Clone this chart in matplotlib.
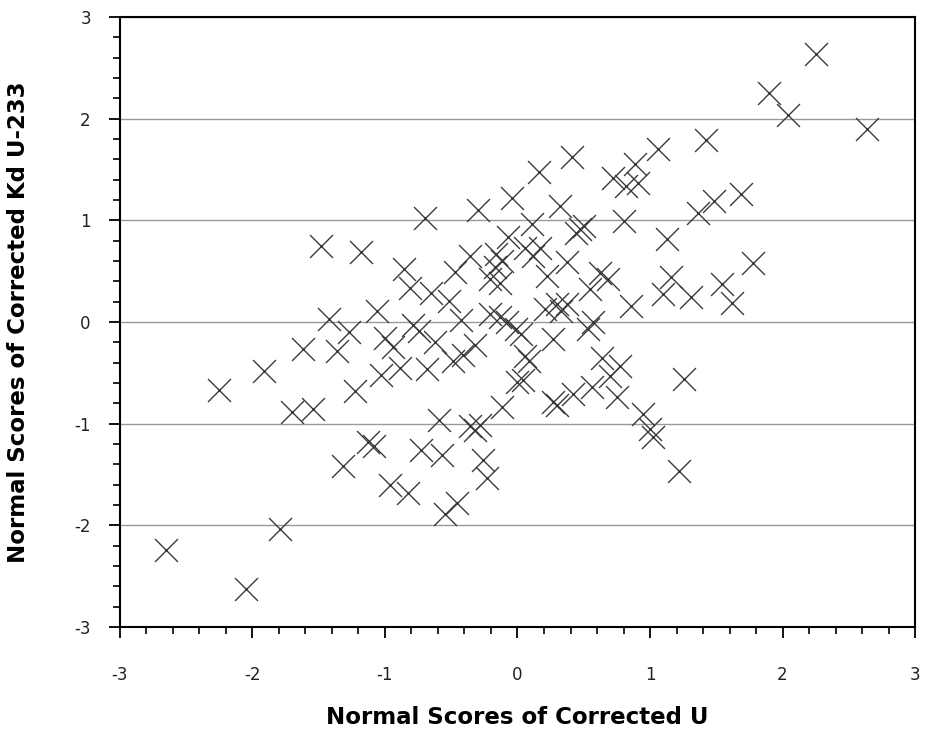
import matplotlib.pyplot as plt
from matplotlib.ticker import MultipleLocator

# Normal scores
corrected_u = [
    2.25, 1.90, 2.04, 2.64, 1.42, 1.06, 0.41, 0.16, 0.89, 0.72,
    0.82, 0.91, 0.32, -0.04, -0.30, -0.70, 1.36, 1.48, 1.69, 0.80,
    0.11, 0.44, 0.47, 0.50, 1.13, 1.78, 1.16, 1.10, 1.31, 1.54,
    1.62, 0.86, 0.62, 0.68, 0.55, 0.37, 0.22, 0.17, 0.12, 0.06,
    -0.07, -0.36, -0.47, -0.86, -1.48, -1.18, -0.16, -0.17, -0.12, -0.21,
    -0.13, -0.81, -0.65, -0.52, 0.21, 0.30, 0.37, 0.33, -1.42, -1.06,
    -0.43, -0.21, -0.13, 0.57, -0.79, -0.74, -0.08, -0.01, 0.03, 0.53,
    0.27, -1.27, -1.00, -0.94, -0.89, -1.03, -0.68, -0.62, -0.49, -0.41,
    -0.32, 0.06, 0.09, 0.00, 0.04, -0.12, 0.64, 0.77, 0.70, 0.75,
    0.56, 0.42, 0.27, 0.30, 0.95, 1.00, 1.02, 1.26, 1.22, -2.25,
    -1.91, -1.62, -1.36, -1.70, -1.54, -1.23, -0.59, -1.32, -1.13, -1.08,
    -0.96, -0.83, -0.73, -0.57, -0.55, -0.46, -0.36, -0.32, -0.28, -0.26,
    -0.23, -2.65, -2.05, -1.79,
]
corrected_kd = [
    2.64, 2.25, 2.04, 1.90, 1.79, 1.70, 1.62, 1.48, 1.55, 1.42,
    1.34, 1.37, 1.14, 1.22, 1.10, 1.02, 1.07, 1.19, 1.26, 0.99,
    0.96, 0.88, 0.91, 0.94, 0.82, 0.58, 0.44, 0.28, 0.25, 0.37,
    0.19, 0.16, 0.48, 0.42, 0.32, 0.59, 0.45, 0.73, 0.65, 0.73,
    0.84, 0.65, 0.49, 0.52, 0.75, 0.69, 0.67, 0.54, 0.60, 0.42,
    0.38, 0.33, 0.29, 0.21, 0.13, 0.18, 0.18, 0.11, 0.03, 0.11,
    0.02, 0.08, 0.05, 0.00, -0.03, -0.09, 0.00, -0.07, -0.12, -0.07,
    -0.17, -0.10, -0.16, -0.25, -0.45, -0.52, -0.46, -0.20, -0.38, -0.32,
    -0.23, -0.33, -0.38, -0.59, -0.57, -0.84, -0.35, -0.43, -0.53, -0.74,
    -0.64, -0.71, -0.79, -0.82, -0.90, -1.05, -1.13, -0.56, -1.47, -0.67,
    -0.48, -0.27, -0.29, -0.89, -0.86, -0.68, -0.96, -1.42, -1.18, -1.22,
    -1.60, -1.68, -1.26, -1.31, -1.89, -1.78, -1.02, -1.06, -1.01, -1.36,
    -1.53, -2.24, -2.63, -2.04,
]

plt.rcParams['axes.unicode_minus'] = False

fig = plt.figure(figsize=(9.28, 7.32), dpi=100)
ax = fig.add_axes([0.1293, 0.1434, 0.8567, 0.8334])

ax.scatter(corrected_u, corrected_kd, marker='x', s=16.5 ** 2,
           color='#3a3a3a', linewidths=1.0, zorder=3)

ax.set_xlim(-3, 3)
ax.set_ylim(-3, 3)
ax.xaxis.set_major_locator(MultipleLocator(1))
ax.yaxis.set_major_locator(MultipleLocator(1))
ax.xaxis.set_minor_locator(MultipleLocator(0.2))
ax.yaxis.set_minor_locator(MultipleLocator(0.2))
ax.yaxis.grid(True, which='major', color='#999999', linewidth=1.0, zorder=1)

for side in ['left', 'bottom', 'top', 'right']:
    ax.spines[side].set_linewidth(1.5)
    ax.spines[side].set_color('black')

ax.tick_params(axis='both', which='major', direction='out', length=8,
               width=1.3, labelsize=12, colors='black', labelcolor='#222222')
ax.tick_params(axis='both', which='minor', direction='out', length=5, width=1.2)
ax.tick_params(axis='x', which='major', pad=20)
ax.tick_params(axis='y', which='major', pad=13)

ax.set_xlabel('Normal Scores of Corrected U', fontsize=16.5, fontweight='bold',
              labelpad=16)
ax.set_ylabel('Normal Scores of Corrected Kd U-233', fontsize=16.5,
              fontweight='bold', labelpad=32)

fig.savefig('out.png', dpi=100)
